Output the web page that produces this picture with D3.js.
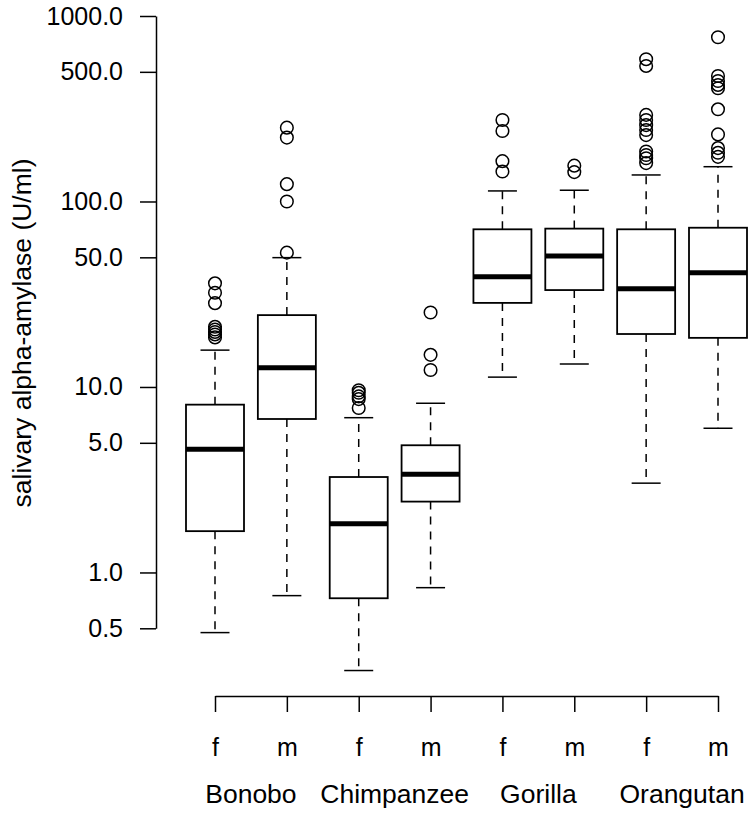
<!DOCTYPE html>
<html>
<head>
<meta charset="utf-8">
<script src="https://cdn.jsdelivr.net/npm/d3@7"></script>
<style>
  body { margin: 0; background: #fff; }
  text { font-family: "Liberation Sans", Arial, sans-serif; fill: #000; }
</style>
</head>
<body>
<div class="chart-area"></div>
<script>
// Data
var species = ["Bonobo", "Chimpanzee", "Gorilla", "Orangutan"];
var sexes = ["f", "m"];

// one value per box, in order Bonobo f, Bonobo m, Chimpanzee f, ...
var lowerWhisker = [0.474, 0.75, 0.296, 0.828, 11.3, 13.3, 3.03, 5.99];
var q1 = [1.67, 6.72, 0.726, 2.41, 28.4, 33.3, 19.3, 18.4];
var median = [4.62, 12.7, 1.83, 3.38, 39.3, 50.8, 33.9, 41.3];
var q3 = [8.03, 24.4, 3.27, 4.85, 70.8, 71.4, 70.8, 72.2];
var upperWhisker = [15.8, 49.8, 6.83, 8.17, 114, 115, 139, 154];
var outliers = [
    [36.2, 32.2, 28.3, 21.1, 20.4, 19.8, 19.2, 18.5],
    [250, 221, 124, 100, 53],
    [9.6, 9.3, 8.9, 8.6, 7.7],
    [25.2, 14.9, 12.35],
    [275, 240, 165, 145],
    [156, 144],
    [585, 538, 293, 275, 258, 243, 228, 186, 178, 171, 161],
    [768, 475, 446, 425, 408, 314, 230, 194, 183, 174]
];

var yTicks = [0.5, 1, 5, 10, 50, 100, 500, 1000];
var yLabel = "salivary alpha-amylase (U/ml)";

// build the box list
var boxes = [];
species.forEach(function(s) {
    sexes.forEach(function(x) {
        var i = boxes.length;
        boxes.push({
            key: s + "." + x, species: s, sex: x,
            lw: lowerWhisker[i], q1: q1[i], med: median[i], q3: q3[i],
            uw: upperWhisker[i], out: outliers[i]
        });
    });
});

var svg = d3.select(".chart-area").append("svg")
    .attr("width", 755)
    .attr("height", 816);

var y = d3.scaleLog()
    .domain([0.5, 1000])
    .range([628.3, 16]);

var x = d3.scalePoint()
    .domain(boxes.map(function(d) { return d.key; }))
    .range([215, 718]);

var boxW = 58;
var tickFont = 25;
var labelFont = 26.5;

// y axis
svg.append("g")
    .attr("transform", "translate(156,0)")
    .call(d3.axisLeft(y)
        .tickValues(yTicks)
        .tickSize(16)
        .tickSizeOuter(0)
        .tickPadding(17)
        .tickFormat(d3.format(".1f")));

// x axis
svg.append("g")
    .attr("transform", "translate(0,696)")
    .call(d3.axisBottom(x)
        .tickSize(16)
        .tickSizeOuter(0)
        .tickPadding(26)
        .tickFormat(function(k) { return k.split(".")[1]; }));

svg.selectAll(".domain, .tick line")
    .attr("stroke", "#000")
    .attr("stroke-width", 1.5);
svg.selectAll(".tick text")
    .style("font-size", tickFont + "px")
    .style("font-family", "Liberation Sans, Arial, sans-serif")
    .attr("fill", "#000");

// species labels under the pairs
svg.selectAll("text.species")
    .data(species)
    .enter()
    .append("text")
    .attr("class", "species")
    .attr("x", function(s) {
        return (x(s + ".f") + x(s + ".m")) / 2;
    })
    .attr("y", 803)
    .attr("text-anchor", "middle")
    .style("font-size", labelFont + "px")
    .text(function(s) { return s; });

// y label
svg.append("text")
    .attr("transform", "translate(31,333) rotate(-90)")
    .attr("text-anchor", "middle")
    .style("font-size", labelFont + "px")
    .text(yLabel);

// boxes
var g = svg.selectAll("g.box")
    .data(boxes)
    .enter()
    .append("g")
    .attr("class", "box");

// dashed whiskers
g.append("line")
    .attr("x1", function(d) { return x(d.key); })
    .attr("x2", function(d) { return x(d.key); })
    .attr("y1", function(d) { return y(d.q3); })
    .attr("y2", function(d) { return y(d.uw); })
    .attr("stroke", "#000")
    .attr("stroke-width", 1.5)
    .attr("stroke-dasharray", "8,7");

g.append("line")
    .attr("x1", function(d) { return x(d.key); })
    .attr("x2", function(d) { return x(d.key); })
    .attr("y1", function(d) { return y(d.q1); })
    .attr("y2", function(d) { return y(d.lw); })
    .attr("stroke", "#000")
    .attr("stroke-width", 1.5)
    .attr("stroke-dasharray", "8,7");

// staples
["uw", "lw"].forEach(function(k) {
    g.append("line")
        .attr("x1", function(d) { return x(d.key) - boxW / 4; })
        .attr("x2", function(d) { return x(d.key) + boxW / 4; })
        .attr("y1", function(d) { return y(d[k]); })
        .attr("y2", function(d) { return y(d[k]); })
        .attr("stroke", "#000")
        .attr("stroke-width", 1.5);
});

g.append("rect")
    .attr("x", function(d) { return x(d.key) - boxW / 2; })
    .attr("width", boxW)
    .attr("y", function(d) { return y(d.q3); })
    .attr("height", function(d) { return y(d.q1) - y(d.q3); })
    .attr("fill", "#fff")
    .attr("stroke", "#000")
    .attr("stroke-width", 1.8);

g.append("line")
    .attr("x1", function(d) { return x(d.key) - boxW / 2; })
    .attr("x2", function(d) { return x(d.key) + boxW / 2; })
    .attr("y1", function(d) { return y(d.med); })
    .attr("y2", function(d) { return y(d.med); })
    .attr("stroke", "#000")
    .attr("stroke-width", 5);

// outliers
g.selectAll("circle")
    .data(function(d) {
        return d.out.map(function(v) { return { key: d.key, v: v }; });
    })
    .enter()
    .append("circle")
    .attr("cx", function(d) { return x(d.key); })
    .attr("cy", function(d) { return y(d.v); })
    .attr("r", 6.3)
    .attr("fill", "none")
    .attr("stroke", "#000")
    .attr("stroke-width", 1.5);
</script>
</body>
</html>
